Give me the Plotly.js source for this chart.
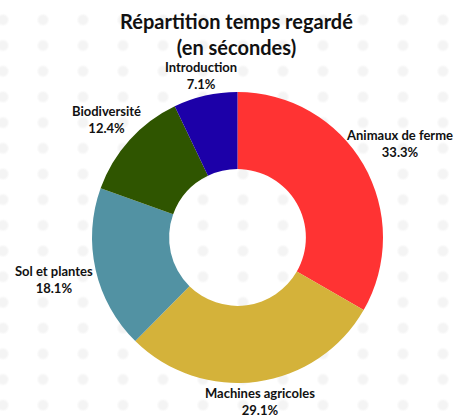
<!DOCTYPE html>
<html><head><meta charset="utf-8">
<script src="https://cdn.plot.ly/plotly-3.0.1.min.js"></script>
<style>
html,body{margin:0;padding:0;}
body{width:461px;height:415px;background-color:#fff;
background-image:radial-gradient(circle, #f4f4f4 4px, rgba(255,255,255,0) 6.5px);
background-size:40px 25.7px;background-position:-17px 7px;}
#chart{width:461px;height:415px;}
</style></head>
<body><div id="chart"></div>
<script>
const categories = ["Animaux de ferme", "Machines agricoles", "Sol et plantes", "Biodiversité", "Introduction"];
const values = [33.3, 29.1, 18.1, 12.4, 7.1];
const colors = ["#ff3333", "#d4b23a", "#5292a3", "#2f5500", "#1c00a8"];

const W = 461, H = 415;
const margin = {t: 92, b: 32, l: 92, r: 78};
const plotSize = W - margin.l - margin.r;   // square pie domain (px)
const outerR = plotSize / 2;
const labelFont = 13, charW = 6.2, boxH = 44, labelOffset = -2;

const total = values.reduce((a, b) => a + b, 0);
let cum = 0;
const annotations = values.map((v, i) => {
  const theta = 2 * Math.PI * (cum + v / 2) / total;  // clockwise from top
  cum += v;
  const vx = Math.sin(theta), vyUp = Math.cos(theta);
  const w = categories[i].length * charW;
  const t = Math.min((w / 2) / Math.max(Math.abs(vx), 1e-6), (boxH / 2) / Math.max(Math.abs(vyUp), 1e-6));
  const r = outerR + labelOffset + t;
  return {
    xref: "paper", yref: "paper",
    x: 0.5 + r * vx / plotSize, y: 0.5 + r * vyUp / plotSize,
    xanchor: "center", yanchor: "middle", showarrow: false,
    text: "<b>" + categories[i] + "</b><br><b>" + (v / total * 100).toFixed(1) + "%</b>",
    font: {family: "Lato, 'Open Sans', sans-serif", size: labelFont, color: "#111"}
  };
});

Plotly.newPlot("chart", [{
  type: "pie",
  labels: categories,
  values: values,
  hole: 0.47,
  sort: false,
  direction: "clockwise",
  rotation: 0,
  marker: {colors: colors, line: {width: 0}},
  textinfo: "none",
  hoverinfo: "label+percent",
  showlegend: false
}], {
  width: W, height: H,
  margin: margin,
  paper_bgcolor: "rgba(0,0,0,0)",
  plot_bgcolor: "rgba(0,0,0,0)",
  title: {
    text: "<b>Répartition temps regardé<br>(en sécondes)</b>",
    x: 0.513, xanchor: "center", y: 0.93, yanchor: "middle",
    font: {family: "Lato, 'Open Sans', sans-serif", size: 20, color: "#111"}
  },
  annotations: annotations,
  showlegend: false
}, {displayModeBar: false, staticPlot: true});
</script>
</body></html>
